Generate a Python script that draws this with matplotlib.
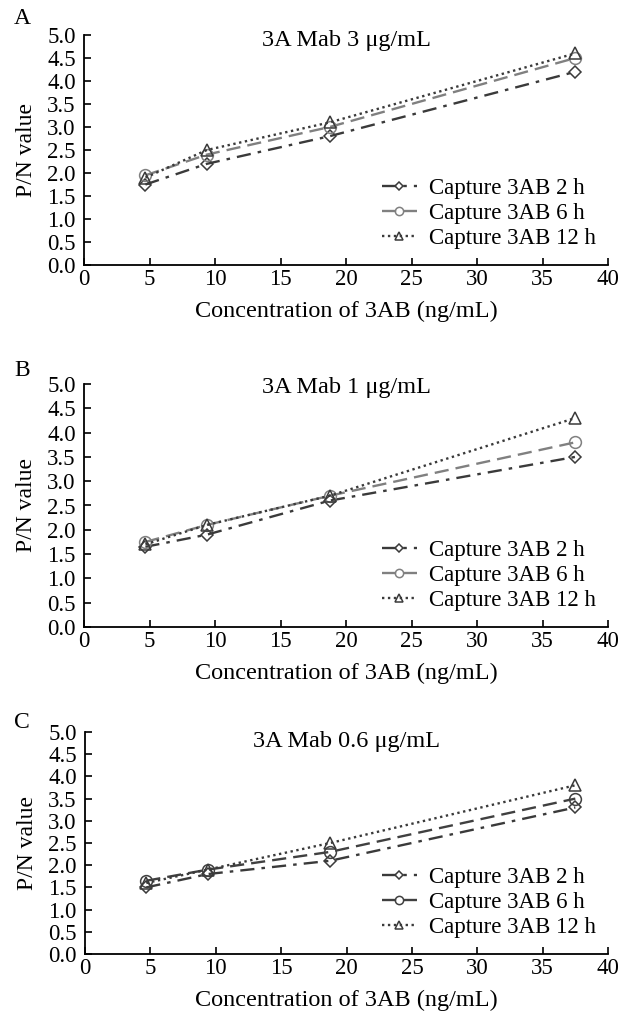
import numpy as np
import matplotlib.pyplot as plt

plt.rcParams['font.family'] = ['Liberation Serif', 'DejaVu Serif']

conc = [4.69, 9.38, 18.75, 37.5]
labels = ['Capture 3AB 2 h', 'Capture 3AB 6 h', 'Capture 3AB 12 h']
panels = ['A', 'B', 'C']
titles = ['3A Mab 3 \u03bcg/mL', '3A Mab 1 \u03bcg/mL', '3A Mab 0.6 \u03bcg/mL']

# P/N values per panel: 2 h, 6 h, 12 h
pn_A = [[1.75, 2.2, 2.8, 4.2],
        [1.95, 2.4, 3.0, 4.5],
        [1.9, 2.5, 3.1, 4.6]]
pn_B = [[1.65, 1.9, 2.6, 3.5],
        [1.75, 2.1, 2.7, 3.8],
        [1.7, 2.1, 2.7, 4.3]]
pn_C = [[1.5, 1.8, 2.1, 3.3],
        [1.65, 1.9, 2.3, 3.5],
        [1.6, 1.9, 2.5, 3.8]]
all_pn = [pn_A, pn_B, pn_C]

styles = [(0, (6, 3, 1.5, 3)), (0, (6, 3)), (0, (1, 1.5))]
markers = ['D', 'o', '^']
msizes = [6.5, 8.5, 8]
colors_6h = ['#808080', '#808080', '#404040']

W, H = 630, 1014
fig = plt.figure(figsize=(W / 100, H / 100), dpi=100)

# axes boxes in pixels: left, top, right, bottom ; panel letter y
boxes = [(84, 35, 608, 265), (84, 384, 608, 627), (85, 732, 608, 954)]
letter_y = [18, 370, 722]
title_off = [5, 4, 10]

for i, (l, t, r, b) in enumerate(boxes):
    ax = fig.add_axes([l / W, 1 - b / H, (r - l) / W, (b - t) / H])
    cols = ['#3a3a3a', colors_6h[i], '#3a3a3a']
    for k in range(3):
        ax.plot(conc, all_pn[i][k], linestyle=styles[k], color=cols[k], lw=1.7,
                marker=markers[k], ms=msizes[k], mfc='none', mec=cols[k], mew=1.1,
                label=labels[k])
    ax.set_xlim(0, 40)
    ax.set_ylim(0, 5)
    ax.set_xticks(np.arange(0, 41, 5))
    ax.set_yticks(np.arange(0, 5.01, 0.5))
    ax.set_yticklabels(['%.1f' % v for v in np.arange(0, 5.01, 0.5)])
    ax.spines['top'].set_visible(False)
    ax.spines['right'].set_visible(False)
    ax.spines['left'].set_linewidth(1.3)
    ax.spines['bottom'].set_linewidth(1.3)
    ax.tick_params(direction='in', length=5, width=1.2, labelsize=16.5, pad=3)
    ax.tick_params(axis='y', pad=6)
    ax.set_xlabel('Concentration of 3AB (ng/mL)', fontsize=17.5, labelpad=8)
    ax.set_ylabel('P/N value', fontsize=17, labelpad=7)
    ax.text(0.5, 1 - title_off[i] / (b - t), titles[i], transform=ax.transAxes,
            ha='center', va='center', fontsize=17.5)
    fig.text(22 / W, 1 - letter_y[i] / H, panels[i], fontsize=17, ha='center', va='center')
    ax.legend(loc='lower right', bbox_to_anchor=(0.995, 0.03), frameon=False, fontsize=16.5,
              handlelength=1.5, handletextpad=0.55, labelspacing=0.17, borderaxespad=0,
              markerscale=0.7)

fig.savefig('out.png', dpi=100, facecolor='white')
